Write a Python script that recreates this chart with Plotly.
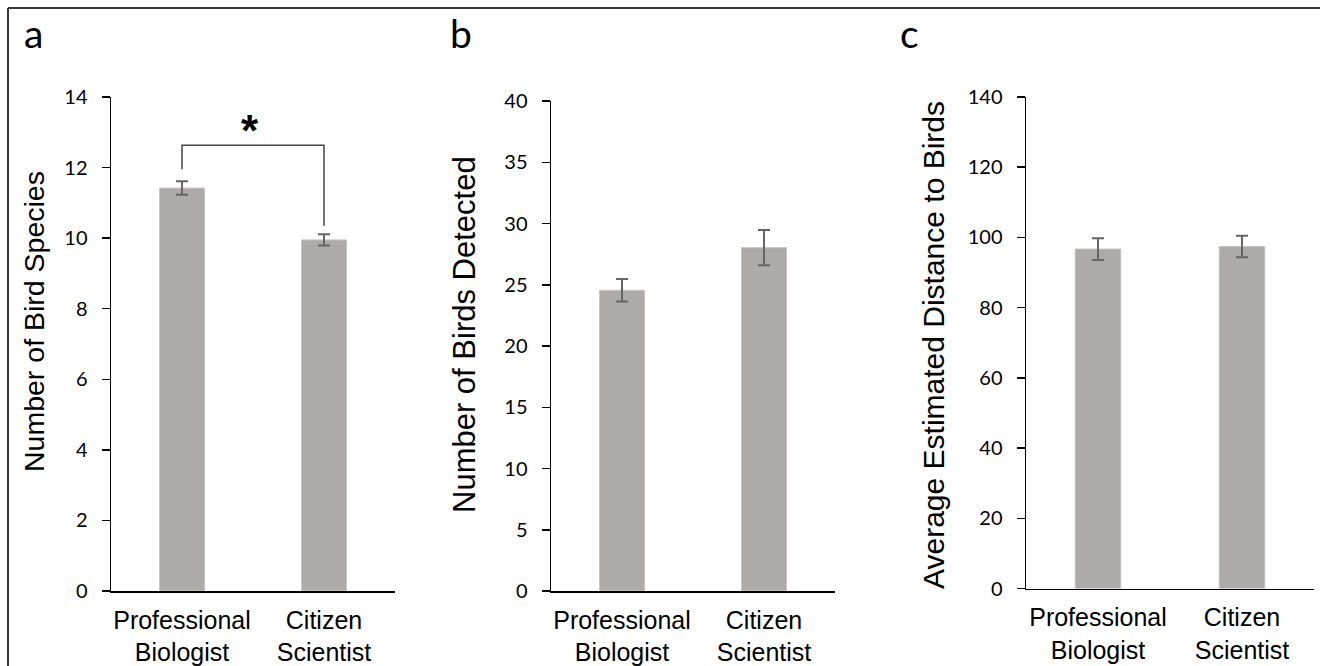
import plotly.graph_objects as go

W, H = 1320, 666

categories = ["Professional<br>Biologist", "Citizen<br>Scientist"]

species_mean = [11.42, 9.95]
species_err = [0.19, 0.16]

birds_mean = [24.55, 28.03]
birds_err = [0.92, 1.44]

dist_mean = [96.7, 97.4]
dist_err = [3.1, 3.05]

panel_letters = ["a", "b", "c"]
y_titles = ["Number of Bird Species", "Number of Birds Detected", "Average Estimated Distance to Birds"]
y_ranges = [[0, 14], [0, 40], [0, 140]]
y_dticks = [2, 5, 20]

# significance bracket (panel a)
bracket_x = [0, 0, 1, 1]
bracket_y = [11.95, 12.63, 12.63, 10.35]
sig_label = "*"

BAR = "#adaaa9"
ERR = "#666666"

def px_x(p):
    return p / W

def px_y(p):
    return 1 - p / H

# domains from pixel geometry
dom_x = [(111, 395), (551, 835), (1026, 1314)]
dom_y = [(97, 591), (101, 591), (97, 588.5)]

fig = go.Figure()

series = [(species_mean, species_err), (birds_mean, birds_err), (dist_mean, dist_err)]
for i, (m, e) in enumerate(series):
    suffix = "" if i == 0 else str(i + 1)
    fig.add_trace(go.Bar(
        x=[0, 1], y=m, width=0.317,
        marker=dict(color=BAR, line=dict(color="#c8c6c5", width=1)),
        error_y=dict(type="data", array=e, visible=True, color=ERR, thickness=2, width=6),
        xaxis="x" + suffix, yaxis="y" + suffix, showlegend=False, hoverinfo="skip",
    ))

fig.add_trace(go.Scatter(
    x=bracket_x, y=bracket_y, mode="lines",
    line=dict(color="#444444", width=1.5),
    xaxis="x", yaxis="y", showlegend=False, hoverinfo="skip",
))

layout = dict(
    width=W, height=H,
    margin=dict(l=0, r=0, t=0, b=0, pad=0, autoexpand=False),
    paper_bgcolor="white", plot_bgcolor="white",
    bargap=0,
)

tick_font = dict(family="Lato, Carlito, sans-serif", size=20, color="black")
cat_font = dict(family="Liberation Sans, Arial, sans-serif", size=25, color="black")

for i in range(3):
    suffix = "" if i == 0 else str(i + 1)
    xa = "xaxis" + suffix
    ya = "yaxis" + suffix
    layout[xa] = dict(
        domain=[px_x(dom_x[i][0]), px_x(dom_x[i][1])],
        anchor="y" + suffix,
        range=[-0.5, 1.5],
        tickvals=[0, 1], ticktext=categories,
        ticks="", showline=True, linecolor="black", linewidth=1.5,
        showgrid=False, zeroline=False, tickfont=cat_font,
        ticklabelstandoff=6, fixedrange=True, automargin=False,
    )
    layout[ya] = dict(
        domain=[px_y(dom_y[i][1]), px_y(dom_y[i][0])],
        anchor="x" + suffix,
        range=y_ranges[i], dtick=y_dticks[i], tick0=0,
        ticks="outside", ticklen=8, tickwidth=1.5, tickcolor="black",
        showline=True, linecolor="black", linewidth=1.5,
        showgrid=False, zeroline=False, tickfont=tick_font,
        ticklabelstandoff=10, fixedrange=True, automargin=False,
    )

fig.update_layout(**layout)

# axis titles as annotations
title_pos = [(34, 322, 28.5), (464, 335, 31), (933, 345, 30)]
for i, (cx, cy, fs) in enumerate(title_pos):
    fig.add_annotation(
        text=y_titles[i], xref="paper", yref="paper",
        x=px_x(cx), y=px_y(cy), xanchor="center", yanchor="middle",
        textangle=-90, showarrow=False,
        font=dict(family="Liberation Sans, Arial, sans-serif", size=fs, color="black"),
    )

# panel letters
letter_pos = [(22, 8), (448, 8), (898, 8)]
for i, (lx, ly) in enumerate(letter_pos):
    fig.add_annotation(
        text=panel_letters[i], xref="paper", yref="paper",
        x=px_x(lx), y=px_y(ly), xanchor="left", yanchor="top",
        showarrow=False,
        font=dict(family="Lato, Carlito, sans-serif", size=39, color="black"),
    )

# significance star
fig.add_annotation(
    text="<b>" + sig_label + "</b>", xref="x", yref="y",
    x=0.477, y=13.05, xanchor="center", yanchor="middle",
    showarrow=False,
    font=dict(family="Liberation Sans, Arial, sans-serif", size=44, color="black"),
)

# outer frame (top and left edges)
fig.add_shape(type="line", xref="paper", yref="paper",
              x0=px_x(8), y0=px_y(8), x1=1, y1=px_y(8),
              line=dict(color="#3a3a3a", width=2))
fig.add_shape(type="line", xref="paper", yref="paper",
              x0=px_x(8), y0=px_y(8), x1=px_x(8), y1=0,
              line=dict(color="#3a3a3a", width=2))

fig.write_html(
    "out.html",
    config={"displayModeBar": False, "staticPlot": True},
    post_script="document.body.style.margin='0';document.documentElement.style.overflow='hidden';document.body.style.overflow='hidden';",
)
